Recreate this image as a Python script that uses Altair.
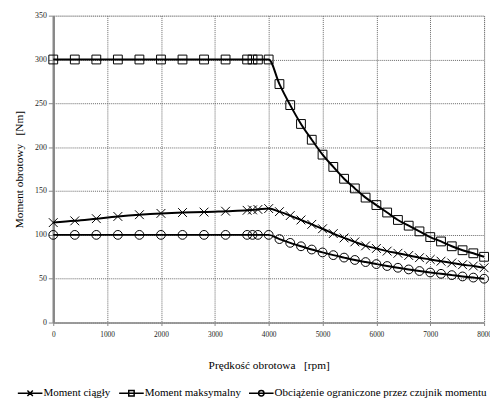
import altair as alt
import pandas as pd

rpm = [0, 400, 800, 1200, 1600, 2000, 2400, 2800, 3200, 3600, 3700, 3800, 4000,
       4200, 4400, 4600, 4800, 5000, 5200, 5400, 5600, 5800, 6000,
       6200, 6400, 6600, 6800, 7000, 7200, 7400, 7600, 7800, 8000]

moment_ciagly = [114, 116, 118.5, 121, 123, 124.5, 125.5, 126, 127, 128, 128.5, 129, 130,
                 126.5, 122, 117, 112, 107, 101.5, 96.5, 92, 87.5, 84.5,
                 81.5, 79, 76.5, 74, 72, 70, 68, 66, 64.5, 62.5]

moment_maks = [300, 300, 300, 300, 300, 300, 300, 300, 300, 300, 300, 300, 300,
               272, 248, 226.5, 208.5, 191.5, 177.5, 164, 153, 142.5, 134,
               125.5, 117, 110.5, 104, 97.5, 92.5, 87, 82.5, 79, 75]

obciazenie = [100, 100, 100, 100, 100, 100, 100, 100, 100, 100, 100, 100, 100,
              95.2, 90.9, 87, 83.3, 80, 76.9, 74.1, 71.4, 69, 66.7,
              64.5, 62.5, 60.6, 58.8, 57.1, 55.6, 54.1, 52.6, 51.3, 50]

series_names = ["Moment ciągły", "Moment maksymalny",
                "Obciążenie ograniczone przez czujnik momentu"]

x_ticks = [0, 1000, 2000, 3000, 4000, 5000, 6000, 7000, 8000]
y_ticks = [0, 50, 100, 150, 200, 250, 300, 350]

rows = []
for name, vals in zip(series_names, [moment_ciagly, moment_maks, obciazenie]):
    for r, v in zip(rpm, vals):
        rows.append({"rpm": r, "moment": v, "series": name})
df = pd.DataFrame(rows)

FONT = "Liberation Serif, Times New Roman, DejaVu Serif, serif"

x_enc = alt.X("rpm:Q",
              scale=alt.Scale(domain=[0, 8000], nice=False, zero=False),
              axis=alt.Axis(values=x_ticks, format="d", title="Prędkość obrotowa \u00a0 [rpm]",
                            labelFont=FONT, labelFontSize=7.5, labelColor="#222",
                            titleFont=FONT, titleFontSize=11.5, titleFontWeight="normal",
                            titleColor="black", titlePadding=22,
                            grid=True, gridColor="#666", gridDash=[1, 1], gridWidth=1,
                            domainColor="#888", domainWidth=1.5,
                            tickColor="#888", tickSize=3, labelPadding=5,
                            labelFlush=False))
y_enc = alt.Y("moment:Q",
              scale=alt.Scale(domain=[0, 350], nice=False),
              axis=alt.Axis(values=y_ticks, format="d", title="Moment obrotowy \u00a0 [Nm]",
                            labelFont=FONT, labelFontSize=8, labelColor="#222",
                            titleFont=FONT, titleFontSize=11.5, titleFontWeight="normal",
                            titleColor="black", titlePadding=10,
                            grid=True, gridColor="#666", gridDash=[1, 1], gridWidth=1,
                            domainColor="#888", domainWidth=2.5,
                            tickColor="#888", tickSize=5, labelPadding=2))

base = alt.Chart(df)

lines = base.mark_line(color="black", strokeWidth=2, interpolate="monotone").encode(
    x=x_enc, y=y_enc, detail="series:N")

x_path = "M-1,-1L1,1M-1,1L1,-1"
points = base.mark_point(filled=False, color="black", strokeWidth=1, size=80, opacity=1).encode(
    x=x_enc, y=y_enc,
    shape=alt.Shape("series:N",
                    scale=alt.Scale(domain=series_names, range=[x_path, "square", "circle"]),
                    legend=None))

leg_paths = [
    "M-1,0H1M-0.22,-0.22L0.22,0.22M-0.22,0.22L0.22,-0.22",
    "M-1,0H1M-0.22,-0.22H0.22V0.22H-0.22Z",
    "M-1,0H1M0.22,0A0.22,0.22,0,1,1,-0.22,0A0.22,0.22,0,1,1,0.22,0",
]
legend_layer = base.mark_point(filled=False, color="black", opacity=0).encode(
    x=x_enc, y=y_enc,
    shape=alt.Shape("series:N",
                    scale=alt.Scale(domain=series_names, range=leg_paths),
                    legend=alt.Legend(title=None, orient="none", direction="horizontal",
                                      legendX=-37, legendY=370,
                                      symbolSize=625, symbolStrokeWidth=1.5,
                                      symbolStrokeColor="black", symbolFillColor="transparent",
                                      symbolOpacity=1,
                                      labelFont=FONT, labelFontSize=11.2, labelColor="black",
                                      labelLimit=400, labelOffset=0, columnPadding=5)))

chart = alt.layer(lines, points, legend_layer).resolve_scale(shape="independent").properties(
    width=438, height=312,
    autosize=alt.AutoSizeParams(type="none"),
    padding={"left": 46, "top": 4.5, "right": 6, "bottom": 80},
).configure_view(stroke="#999", strokeWidth=1.5).configure(background="white")

chart.save("out.html", embed_options={"renderer": "svg", "actions": False})
